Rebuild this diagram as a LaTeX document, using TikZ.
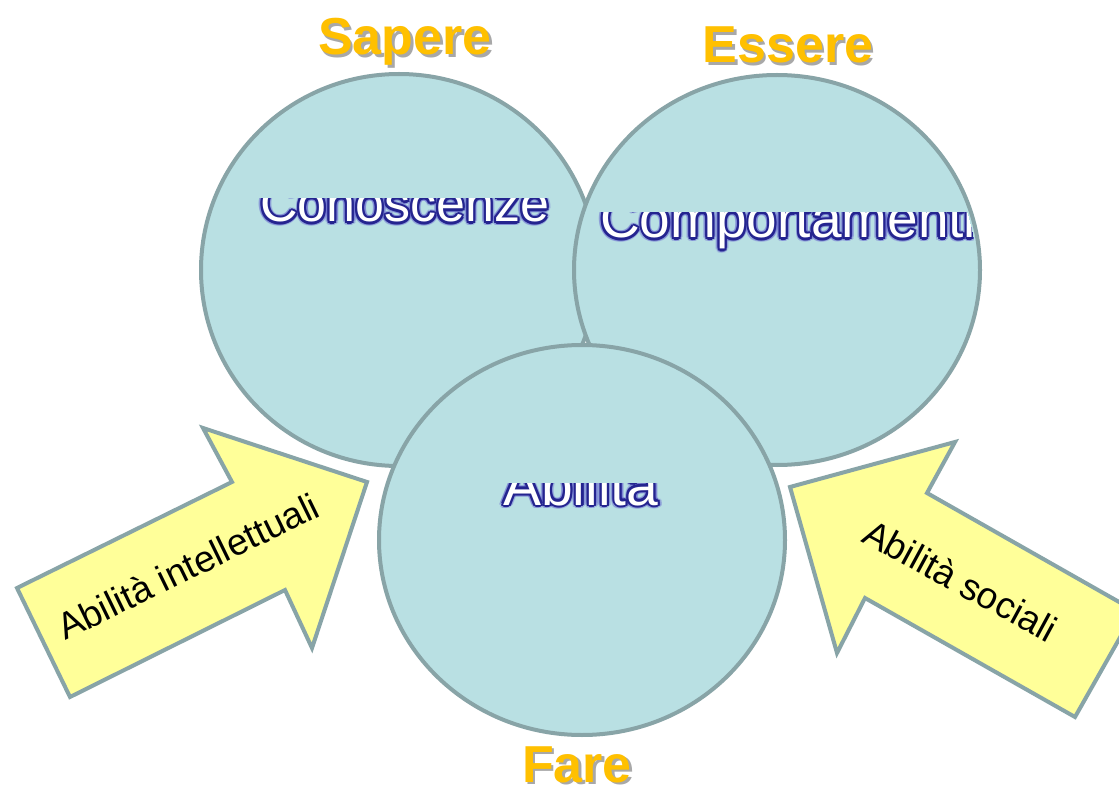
\documentclass[tikz,border=0pt]{standalone}
\usepackage{fontspec}
\setmainfont{Liberation Sans}
\usetikzlibrary{shapes.geometric}
\definecolor{bubblefill}{HTML}{B9E0E3}
\definecolor{bubbleline}{HTML}{88A4A7}
\definecolor{arrowfill}{HTML}{FFFF99}
\definecolor{titleorange}{HTML}{FFC000}
\definecolor{titleshadow}{HTML}{A8A8A8}
\definecolor{glowouter}{HTML}{6A6AD0}
\definecolor{glowinner}{HTML}{24248F}
\tikzset{
  bubble/.style={ellipse, draw=bubbleline, fill=bubblefill, line width=4pt, inner sep=0pt},
  bigarrow/.style={draw=bubbleline, fill=arrowfill, line width=4pt, line join=miter},
  arrowlabel/.style={font=\fontsize{37}{44}\selectfont, text=black, inner sep=0pt, anchor=base west},
  titlelabel/.style={font=\fontsize{52}{60}\selectfont\bfseries, inner sep=0pt, anchor=base},
  glowtxt/.style={inner sep=0pt, anchor=base west},
}
% outlined white lettering with a blue halo
\newcommand\haloword[4]{%
  \foreach \a in {0,24,...,336}{
    \node[glowtxt, text=glowouter, opacity=0.3, font=\fontsize{#1}{#1}\selectfont, shift={(\a:3.8)}] at (#2,#3) {#4};
  }
  \foreach \a in {0,30,...,330}{
    \node[glowtxt, text=glowinner, font=\fontsize{#1}{#1}\selectfont, shift={(\a:2.1)}] at (#2,#3) {#4};
  }
  \node[glowtxt, text=white, font=\fontsize{#1}{#1}\selectfont] at (#2,#3) {#4};
}
\newcommand\titleword[4]{%
  \node[titlelabel, text=titleshadow, shift={(2.5,2.5)}] at (#2,#3) {#4};
  \node[titlelabel, text=titleorange] (#1) at (#2,#3) {#4};
}
\begin{document}
\begin{tikzpicture}[x=1pt,y=-1pt]
\useasboundingbox (0,0) rectangle (1119,786);
\fill[white] (0,0) rectangle (1119,786);

% Sapere
\node[bubble, minimum width=396pt, minimum height=392pt] (sap) at (399,270) {};
\begin{scope}
  \clip (200,199) rectangle (600,270);
  \haloword{52}{260}{222}{Conoscenze}
\end{scope}

% Essere
\node[bubble, minimum width=406pt, minimum height=390pt] (ess) at (777,270) {};
\begin{scope}
  \clip (777,270) ellipse [x radius=199, y radius=191];
  \clip (570,213) rectangle (990,280);
  \haloword{55}{600}{238}{Comportamenti}
\end{scope}

% Fare
\node[bubble, minimum width=406pt, minimum height=390pt] (far) at (582,540) {};
\begin{scope}
  \clip (480,483) rectangle (700,540);
  \haloword{57}{503}{505}{Abilità}
\end{scope}

% left arrow
\draw[bigarrow] (70,697) -- (17,588) -- (232,482) -- (203,428) -- (367,482)
  -- (312,648) -- (285,590) -- cycle;
\node[arrowlabel, rotate=26] (intel) at (65,641) {Abilità intellettuali};

% right arrow
\draw[bigarrow] (790,487) -- (955,442) -- (927,493) -- (1135,611)
  -- (1075,717) -- (865,598) -- (837,653) -- cycle;
\node[arrowlabel, rotate=-28.5] (soc) at (860,541) {Abilità sociali};

% titles
\titleword{tsap}{405}{55}{Sapere}
\titleword{tess}{788}{63}{Essere}
\titleword{tfar}{577}{782}{Fare}
\end{tikzpicture}
\end{document}
